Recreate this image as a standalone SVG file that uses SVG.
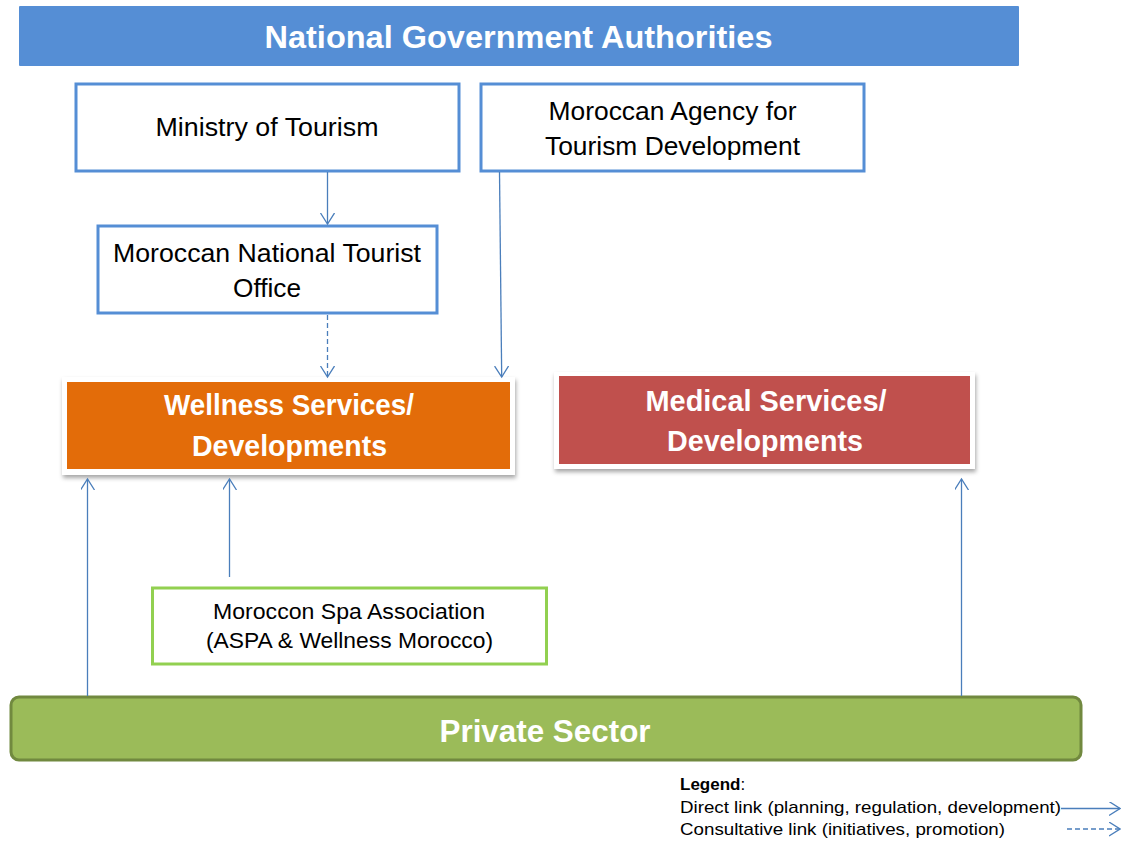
<svg xmlns="http://www.w3.org/2000/svg" width="1121" height="843" viewBox="0 0 1121 843">
<style>
text{font-family:"Liberation Sans",Arial,sans-serif;text-anchor:middle}
.box{fill:#fff;stroke:#558ED5;stroke-width:3}
.t{font-size:25px;fill:#000}
.tb{font-weight:bold;fill:#fff}
.link{stroke:#4A7EBB;stroke-width:1.3;fill:none}
.dash{stroke-dasharray:5,3}
.leg{font-size:17px;text-anchor:start;fill:#000}
</style>
<defs>
<marker id="arr" markerWidth="16" markerHeight="16" refX="11" refY="7" orient="auto" markerUnits="userSpaceOnUse">
<path d="M0,0 L11,7 L0,14" fill="none" stroke="#4A7EBB" stroke-width="1.3"/>
</marker>
<filter id="sh" x="-5%" y="-10%" width="115%" height="130%">
<feDropShadow dx="1" dy="3" stdDeviation="2" flood-color="#000" flood-opacity="0.35"/>
</filter>
</defs>
<rect width="1121" height="843" fill="#fff"/>

<g id="national-government">
<rect x="19" y="6" width="1000" height="60" fill="#558ED5" rx="1"/>
<text class="tb" x="518.5" y="47.5" font-size="31" textLength="508" lengthAdjust="spacingAndGlyphs">National Government Authorities</text>
</g>

<g id="ministry">
<rect class="box" x="76" y="84" width="383" height="87"/>
<text class="t" x="267" y="136" textLength="223" lengthAdjust="spacingAndGlyphs">Ministry of Tourism</text>
</g>

<g id="agency">
<rect class="box" x="481" y="84" width="383" height="87"/>
<text class="t" x="672.5" y="120" textLength="248" lengthAdjust="spacingAndGlyphs">Moroccan Agency for</text>
<text class="t" x="672.5" y="155" textLength="255" lengthAdjust="spacingAndGlyphs">Tourism Development</text>
</g>

<g id="mnto">
<rect class="box" x="98" y="226" width="339" height="87"/>
<text class="t" x="267" y="262" textLength="308" lengthAdjust="spacingAndGlyphs">Moroccan National Tourist</text>
<text class="t" x="267" y="297" textLength="68" lengthAdjust="spacingAndGlyphs">Office</text>
</g>

<g id="wellness">
<rect x="62" y="377" width="453" height="98" fill="#fff" filter="url(#sh)"/>
<rect x="67" y="382" width="443" height="87" fill="#E36C09"/>
<text class="tb" x="289" y="415" font-size="29" textLength="250" lengthAdjust="spacingAndGlyphs">Wellness Services/</text>
<text class="tb" x="289.5" y="456" font-size="29" textLength="195" lengthAdjust="spacingAndGlyphs">Developments</text>
</g>

<g id="medical">
<rect x="554" y="372" width="421" height="97" fill="#fff" filter="url(#sh)"/>
<rect x="559" y="376" width="411" height="88" fill="#C0504D"/>
<text class="tb" x="766" y="411" font-size="29" textLength="241" lengthAdjust="spacingAndGlyphs">Medical Services/</text>
<text class="tb" x="765" y="451" font-size="29" textLength="196" lengthAdjust="spacingAndGlyphs">Developments</text>
</g>

<g id="spa">
<rect x="152.5" y="588" width="394" height="76" fill="#fff" stroke="#92D050" stroke-width="3"/>
<text x="349" y="619" font-size="22" textLength="272" lengthAdjust="spacingAndGlyphs">Moroccon Spa Association</text>
<text x="349.5" y="648" font-size="22" textLength="287" lengthAdjust="spacingAndGlyphs">(ASPA &amp; Wellness Morocco)</text>
</g>

<g id="private-sector">
<rect x="11" y="697" width="1070" height="63" rx="8" fill="#9BBB59" stroke="#71893F" stroke-width="3"/>
<text class="tb" x="545" y="742" font-size="32" textLength="211" lengthAdjust="spacingAndGlyphs">Private Sector</text>
</g>

<g id="connectors">
<line class="link" x1="327.5" y1="172" x2="327.5" y2="224" marker-end="url(#arr)"/>
<line class="link dash" x1="327.5" y1="315" x2="327.5" y2="377" marker-end="url(#arr)"/>
<line class="link" x1="499.5" y1="172" x2="501.7" y2="377" marker-end="url(#arr)"/>
<line class="link" x1="87.5" y1="696" x2="87.5" y2="479" marker-end="url(#arr)"/>
<line class="link" x1="229.5" y1="577" x2="229.5" y2="479" marker-end="url(#arr)"/>
<line class="link" x1="961.5" y1="696" x2="961.5" y2="479" marker-end="url(#arr)"/>
<line class="link" x1="1061" y1="808.5" x2="1120" y2="808.5" marker-end="url(#arr)"/>
<line class="link dash" x1="1067" y1="829" x2="1120" y2="829" marker-end="url(#arr)"/>
</g>

<g id="legend">
<text class="leg" x="680" y="790"><tspan font-weight="bold">Legend</tspan>:</text>
<text class="leg" x="680" y="813" textLength="381" lengthAdjust="spacingAndGlyphs">Direct link (planning, regulation, development)</text>
<text class="leg" x="680" y="835" textLength="325" lengthAdjust="spacingAndGlyphs">Consultative link (initiatives, promotion)</text>
</g>
</svg>
